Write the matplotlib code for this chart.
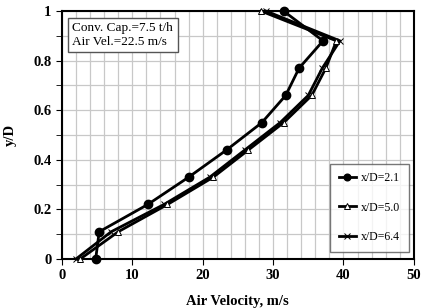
import matplotlib
matplotlib.use("Agg")
import matplotlib.pyplot as plt
from matplotlib.ticker import MultipleLocator

# y/D positions
y_d = [0, 0.11, 0.22, 0.33, 0.44, 0.55, 0.66, 0.77, 0.88, 1.0]

# air velocity (m/s) for each x/D station
v_21 = [4.8, 5.3, 12.2, 18.0, 23.4, 28.4, 31.8, 33.7, 37.1, 31.5]
v_50 = [2.6, 8.0, 15.0, 21.5, 26.5, 31.5, 35.5, 37.5, 39.0, 28.3]
v_64 = [2.0, 7.0, 14.5, 21.0, 26.0, 31.0, 35.0, 37.0, 39.5, 29.0]

labels = ["x/D=2.1", "x/D=5.0", "x/D=6.4"]

plt.rcParams['font.family'] = ['Liberation Serif', 'DejaVu Serif']

fig = plt.figure(figsize=(4.21, 3.08), dpi=100)
ax = fig.add_axes([0.147, 0.159, 0.836, 0.805])

ax.plot(v_21, y_d, color='black', lw=2, marker='o', ms=6, label=labels[0], clip_on=False, zorder=5)
ax.plot(v_50, y_d, color='black', lw=2, marker='^', ms=5, mfc='white', mew=0.7,
        label=labels[1], clip_on=False, zorder=4)
ax.plot(v_64, y_d, color='black', lw=2, marker='x', ms=5, mew=0.7,
        label=labels[2], clip_on=False, zorder=3)

ax.set_xlim(0, 50)
ax.set_ylim(0, 1)
ax.xaxis.set_major_locator(MultipleLocator(10))
ax.xaxis.set_minor_locator(MultipleLocator(2))
ax.yaxis.set_major_locator(MultipleLocator(0.2))
ax.yaxis.set_minor_locator(MultipleLocator(0.1))
ax.set_yticks([0, 0.2, 0.4, 0.6, 0.8, 1.0])
ax.set_yticklabels(['0', '0.2', '0.4', '0.6', '0.8', '1'])
ax.grid(which='both', color='#c8c8c8', lw=0.9)
ax.set_axisbelow(True)

ax.tick_params(axis='both', which='major', labelsize=10.5, length=4, direction='out')
ax.tick_params(axis='y', which='minor', length=4)
ax.tick_params(axis='x', which='minor', length=0)
for t in ax.get_xticklabels() + ax.get_yticklabels():
    t.set_fontweight('bold')

for s in ax.spines.values():
    s.set_linewidth(1.5)

ax.set_xlabel("Air Velocity, m/s", fontsize=10.5, fontweight='bold', labelpad=9)
ax.set_ylabel("y/D", fontsize=10.5, fontweight='bold', labelpad=12)

ax.text(0.03, 0.955, "Conv. Cap.=7.5 t/h\nAir Vel.=22.5 m/s", transform=ax.transAxes,
        fontsize=9.5, va='top', ha='left', linespacing=1.15,
        bbox=dict(boxstyle='square,pad=0.35', fc='white', ec='#555555', lw=1))

leg = ax.legend(loc='lower right', fontsize=8.5, frameon=True, fancybox=False,
                edgecolor='#555555', handlelength=1.5, handletextpad=0.4,
                markerscale=0.8, labelspacing=1.5, borderpad=0.7,
                borderaxespad=0, bbox_to_anchor=(0.985, 0.03))
leg.get_frame().set_linewidth(1)

fig.savefig("out.png", dpi=100)
